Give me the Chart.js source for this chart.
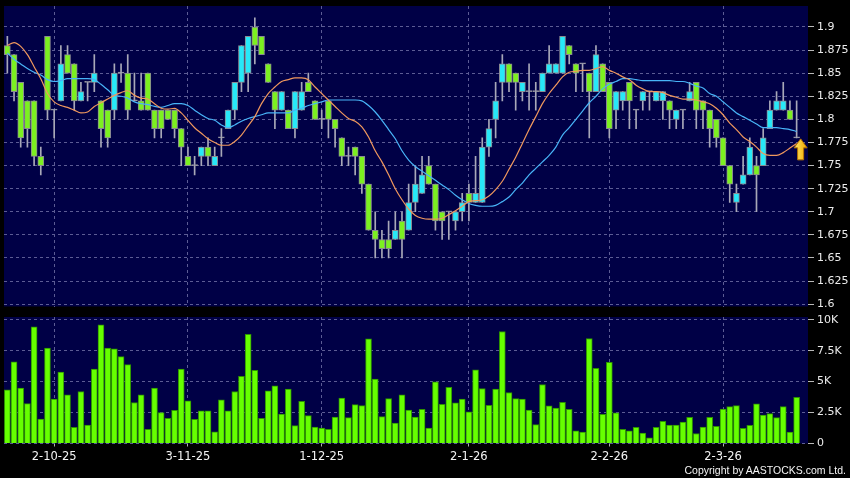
<!DOCTYPE html>
<html lang="en">
<head>
<meta charset="UTF-8">
<title>AASTOCKS daily chart</title>
<script src="https://cdn.jsdelivr.net/npm/chart.js"></script>
<style>
  html, body { margin: 0; padding: 0; background: #000; overflow: hidden; }
  body { width: 850px; height: 478px; position: relative; }
  #priceBox { position: absolute; left: 0; top: -6px; width: 850px; height: 326px; }
  #volBox { position: absolute; left: 0; top: 300px; width: 850px; height: 178px; }
  .copy { position: absolute; right: 4px; top: 464px; color: #f4f4f4;
          font: 10.5px 'Liberation Sans', Arial, sans-serif; }
</style>
</head>
<body>
<div id="priceBox"><canvas id="priceChart"></canvas></div>
<div id="volBox"><canvas id="volChart"></canvas></div>
<div class="copy">Copyright by AASTOCKS.com Ltd.</div>
<script>
// daily bars, 23 Sep 2025 .. 17 Mar 2026
const opens = [1.88,1.87,1.84,1.82,1.82,1.76,1.89,1.81,1.82,1.87,1.86,1.82,1.84,1.84,1.82,1.81,1.81,1.85,1.85,1.82,
  1.82,1.85,1.81,1.81,1.81,1.81,1.79,1.76,1.75,1.76,1.77,1.75,1.78,1.79,1.81,1.84,1.85,1.90,1.89,1.86,
  1.83,1.81,1.81,1.79,1.81,1.84,1.82,1.80,1.82,1.80,1.78,1.76,1.77,1.76,1.73,1.68,1.67,1.67,1.67,1.69,
  1.68,1.71,1.72,1.75,1.73,1.70,1.70,1.69,1.70,1.72,1.71,1.71,1.77,1.80,1.84,1.86,1.85,1.83,1.83,1.83,
  1.83,1.85,1.85,1.85,1.88,1.86,1.86,1.85,1.83,1.86,1.84,1.81,1.82,1.84,1.81,1.82,1.83,1.82,1.82,1.82,
  1.80,1.81,1.82,1.84,1.82,1.81,1.80,1.78,1.75,1.71,1.73,1.74,1.75,1.75,1.79,1.81,1.81,1.81,1.78];
const highs = [1.89,1.87,1.84,1.82,1.82,1.77,1.89,1.81,1.88,1.88,1.86,1.84,1.84,1.87,1.82,1.81,1.86,1.86,1.87,1.85,
  1.85,1.85,1.81,1.81,1.81,1.81,1.79,1.77,1.76,1.77,1.78,1.77,1.79,1.81,1.84,1.88,1.89,1.91,1.89,1.86,
  1.83,1.83,1.81,1.83,1.84,1.85,1.82,1.81,1.82,1.80,1.78,1.77,1.77,1.76,1.73,1.70,1.68,1.69,1.70,1.70,
  1.73,1.75,1.76,1.76,1.73,1.70,1.70,1.70,1.72,1.73,1.76,1.78,1.80,1.84,1.87,1.86,1.85,1.84,1.86,1.84,
  1.85,1.88,1.86,1.89,1.88,1.86,1.86,1.85,1.88,1.86,1.84,1.83,1.83,1.84,1.81,1.83,1.83,1.83,1.83,1.82,
  1.81,1.81,1.84,1.84,1.82,1.81,1.80,1.78,1.75,1.73,1.76,1.78,1.76,1.79,1.82,1.83,1.84,1.82,1.82];
const lows = [1.85,1.82,1.77,1.77,1.75,1.74,1.80,1.78,1.82,1.85,1.81,1.82,1.82,1.83,1.77,1.77,1.80,1.84,1.80,1.82,
  1.81,1.81,1.78,1.78,1.80,1.78,1.75,1.75,1.74,1.75,1.75,1.75,1.76,1.79,1.80,1.83,1.83,1.86,1.87,1.84,
  1.79,1.81,1.79,1.78,1.81,1.83,1.80,1.79,1.78,1.77,1.75,1.75,1.74,1.72,1.68,1.65,1.65,1.65,1.67,1.65,
  1.68,1.70,1.72,1.73,1.68,1.67,1.67,1.68,1.69,1.69,1.71,1.71,1.76,1.78,1.82,1.83,1.81,1.82,1.81,1.81,
  1.83,1.85,1.85,1.85,1.86,1.83,1.83,1.78,1.83,1.83,1.78,1.79,1.81,1.79,1.79,1.81,1.81,1.82,1.80,1.79,
  1.79,1.79,1.82,1.79,1.79,1.77,1.77,1.75,1.71,1.70,1.73,1.74,1.70,1.75,1.79,1.81,1.81,1.80,1.78];
const closes = [1.87,1.83,1.78,1.79,1.76,1.75,1.81,1.81,1.86,1.85,1.82,1.83,1.84,1.85,1.79,1.78,1.85,1.85,1.81,1.82,
  1.81,1.81,1.79,1.79,1.80,1.79,1.77,1.75,1.75,1.77,1.76,1.76,1.78,1.81,1.84,1.88,1.89,1.88,1.87,1.84,
  1.81,1.83,1.79,1.83,1.83,1.83,1.80,1.80,1.80,1.79,1.76,1.76,1.76,1.73,1.68,1.67,1.66,1.66,1.68,1.67,
  1.71,1.73,1.74,1.73,1.69,1.69,1.70,1.70,1.71,1.71,1.72,1.77,1.79,1.82,1.86,1.84,1.84,1.84,1.83,1.83,
  1.85,1.86,1.86,1.89,1.87,1.85,1.86,1.83,1.87,1.83,1.79,1.83,1.83,1.82,1.81,1.83,1.83,1.83,1.83,1.81,
  1.81,1.81,1.83,1.81,1.81,1.79,1.78,1.75,1.73,1.72,1.74,1.77,1.74,1.78,1.81,1.82,1.82,1.80,1.78];
// moving averages (orange = short, blue = long)
const maShort = [1.880,1.883,1.879,1.870,1.857,1.844,1.828,1.819,1.815,1.813,1.810,1.807,1.808,1.814,1.818,1.822,1.826,1.829,1.831,1.826,
  1.823,1.822,1.817,1.812,1.811,1.812,1.807,1.799,1.791,1.785,1.779,1.775,1.772,1.772,1.776,1.783,1.793,1.803,1.817,1.828,
  1.835,1.841,1.843,1.845,1.845,1.843,1.835,1.828,1.821,1.814,1.807,1.801,1.798,1.792,1.781,1.766,1.754,1.740,1.725,1.713,
  1.703,1.696,1.693,1.692,1.692,1.693,1.697,1.701,1.706,1.711,1.712,1.713,1.717,1.724,1.733,1.746,1.759,1.774,1.789,1.803,
  1.817,1.828,1.837,1.846,1.851,1.852,1.853,1.853,1.855,1.857,1.853,1.850,1.846,1.843,1.837,1.833,1.830,1.830,1.829,1.826,
  1.824,1.822,1.822,1.821,1.819,1.817,1.812,1.805,1.796,1.789,1.781,1.776,1.770,1.763,1.761,1.761,1.764,1.769,1.774];
const maLong = [1.872,1.865,1.860,1.855,1.851,1.848,1.843,1.841,1.842,1.844,1.844,1.844,1.844,1.843,1.838,1.832,1.826,1.825,1.823,1.819,
  1.817,1.816,1.814,1.813,1.815,1.817,1.817,1.815,1.810,1.805,1.801,1.799,1.794,1.791,1.794,1.798,1.801,1.803,1.805,1.807,
  1.807,1.807,1.807,1.810,1.812,1.815,1.817,1.819,1.821,1.821,1.821,1.821,1.821,1.820,1.815,1.808,1.799,1.789,1.779,1.766,
  1.756,1.749,1.744,1.739,1.734,1.729,1.724,1.718,1.713,1.709,1.707,1.706,1.706,1.707,1.711,1.716,1.724,1.731,1.740,1.747,
  1.754,1.761,1.770,1.783,1.791,1.800,1.809,1.818,1.825,1.833,1.838,1.841,1.844,1.844,1.843,1.842,1.842,1.842,1.842,1.842,
  1.841,1.841,1.839,1.836,1.834,1.828,1.825,1.819,1.813,1.807,1.803,1.799,1.795,1.791,1.791,1.791,1.790,1.789,1.787];
// volume in thousands of shares
const volumes = [4.34,6.59,4.47,3.22,9.43,1.98,7.70,3.58,5.77,3.93,1.30,4.20,1.49,6.02,9.59,7.70,7.64,7.02,6.37,3.31,
  3.93,1.14,4.47,2.49,2.03,2.68,6.02,3.44,1.95,2.63,2.63,0.95,3.52,2.63,4.20,5.42,8.81,5.91,2.03,4.25,
  4.66,2.38,4.39,1.44,3.41,2.25,1.33,1.25,1.14,2.14,3.66,2.09,3.14,3.06,8.46,5.20,2.17,3.63,1.65,3.93,
  2.71,2.14,2.76,1.25,4.99,3.17,4.53,3.28,3.58,2.55,5.96,4.44,3.09,4.39,9.05,4.12,3.63,3.58,2.71,1.52,
  4.77,3.04,2.87,3.33,2.76,1.03,0.92,8.48,6.07,2.36,6.56,2.47,1.14,1.03,1.30,0.84,0.46,1.30,1.79,1.49,
  1.49,1.73,2.11,0.81,1.33,2.11,1.38,2.79,2.98,3.06,1.22,1.46,3.20,2.30,2.41,2.09,2.98,0.92,3.74];

const dateTickIdx = [7, 27, 47, 69, 90, 107];
const dateTickLabels = ['2-10-25', '3-11-25', '1-12-25', '2-1-26', '2-2-26', '2-3-26'];
const priceTicks = [1.6, 1.625, 1.65, 1.675, 1.7, 1.725, 1.75, 1.775, 1.8, 1.825, 1.85, 1.875, 1.9];
const volTicks = [0, 2.5, 5, 7.5, 10];
const volTickLabels = ['0', '2.5K', '5K', '7.5K', '10K'];

Chart.defaults.font.family = "'DejaVu Sans', sans-serif";
Chart.defaults.font.size = 11;
Chart.defaults.color = '#ececec';

const NAVY = '#000046';
const GRID = '#5c5c94';
const UP = '#27e8f8';
const DOWN = '#7cf020';
const DOJI = '#a8a8b8';

const last = closes.length - 1;
const xMin = -0.5, xMax = 119.7;

const plotBg = {
    id: 'plotBg',
    beforeDraw(chart) {
        const { ctx, chartArea: a } = chart;
        ctx.save();
        ctx.fillStyle = NAVY;
        ctx.fillRect(a.left, a.top, a.right - a.left, a.bottom - a.top);
        ctx.restore();
    }
};

// yellow arrow next to the last close
const lastMark = {
    id: 'lastMark',
    afterDatasetsDraw(chart) {
        const { ctx } = chart;
        const cx = chart.scales.x.getPixelForValue(last) + 4;
        const ty = chart.scales.y.getPixelForValue(closes[last]) + 1;
        ctx.save();
        const g = ctx.createLinearGradient(cx - 6, 0, cx + 6, 0);
        g.addColorStop(0, '#ffe866');
        g.addColorStop(1, '#f0a800');
        ctx.fillStyle = g;
        ctx.strokeStyle = '#b87400';
        ctx.lineWidth = 1;
        ctx.beginPath();
        ctx.moveTo(cx, ty);
        ctx.lineTo(cx + 6.5, ty + 9);
        ctx.lineTo(cx + 3, ty + 9);
        ctx.lineTo(cx + 3, ty + 21);
        ctx.lineTo(cx - 3, ty + 21);
        ctx.lineTo(cx - 3, ty + 9);
        ctx.lineTo(cx - 6.5, ty + 9);
        ctx.closePath();
        ctx.fill();
        ctx.stroke();
        ctx.restore();
    }
};

function dateScale(showLabels) {
    return {
        type: 'linear',
        min: xMin,
        max: xMax,
        offset: false,
        afterBuildTicks: (s) => { s.ticks = dateTickIdx.map(v => ({ value: v })); },
        afterFit: showLabels ? (s) => { s.height = 34.5; } : (s) => { s.height = 0; },
        grid: {
            offset: false,
            color: GRID,
            drawTicks: showLabels,
            tickLength: 3,
            tickColor: '#b0b0b0',
            tickBorderDash: []
        },
        border: { display: false, dash: [3, 3] },
        ticks: {
            display: showLabels,
            autoSkip: false,
            maxRotation: 0,
            padding: 4,
            color: '#f4f4f4',
            font: { size: 11.5 },
            callback: (v) => dateTickLabels[dateTickIdx.indexOf(v)]
        }
    };
}

const bodyColors = opens.map((o, i) => closes[i] > o ? UP : (closes[i] < o ? DOWN : DOJI));

new Chart(document.getElementById('priceChart'), {
    type: 'bar',
    data: {
        datasets: [
            {
                type: 'line', label: 'MA short', order: 0,
                data: maShort.map((v, i) => ({ x: i, y: v })),
                borderColor: '#f0985e', borderWidth: 1.2, pointRadius: 0,
                cubicInterpolationMode: 'monotone'
            },
            {
                type: 'line', label: 'MA long', order: 0,
                data: maLong.map((v, i) => ({ x: i, y: v })),
                borderColor: '#48b4f8', borderWidth: 1.2, pointRadius: 0,
                cubicInterpolationMode: 'monotone'
            },
            {
                label: 'body', order: 1, grouped: false,
                data: opens.map((o, i) => ({ x: i, y: [o, closes[i]] })),
                backgroundColor: bodyColors,
                borderColor: '#8a8a92', borderWidth: 1, borderSkipped: false,
                barThickness: 6, minBarLength: 1
            },
            {
                label: 'wick', order: 2, grouped: false,
                data: lows.map((l, i) => ({ x: i, y: [l, highs[i]] })),
                backgroundColor: '#a8a8b8', barThickness: 1
            }
        ]
    },
    options: {
        responsive: true,
        maintainAspectRatio: false,
        devicePixelRatio: 1,
        animation: false,
        layout: { padding: { left: 4, top: 12, right: 0, bottom: 13.5 } },
        plugins: { legend: { display: false }, tooltip: { enabled: false } },
        scales: {
            x: dateScale(false),
            y: {
                position: 'right',
                min: 1.5975,
                max: 1.9227,
                afterBuildTicks: (s) => { s.ticks = priceTicks.map(v => ({ value: v })); },
                afterFit: (s) => { s.width = 42; },
                grid: { color: GRID, tickLength: 6, tickColor: '#b8b8b8', tickBorderDash: [] },
                border: { display: false, dash: [3, 3] },
                ticks: { padding: 3, callback: (v) => String(v) }
            }
        }
    },
    plugins: [plotBg, lastMark]
});

new Chart(document.getElementById('volChart'), {
    type: 'bar',
    data: {
        datasets: [{
            label: 'Volume',
            data: volumes.map((v, i) => ({ x: i, y: v })),
            backgroundColor: '#66ff00',
            borderColor: '#2e9400',
            borderWidth: 1,
            barThickness: 6
        }]
    },
    options: {
        responsive: true,
        maintainAspectRatio: false,
        devicePixelRatio: 1,
        animation: false,
        layout: { padding: { left: 4, top: 17, right: 0, bottom: 0 } },
        plugins: { legend: { display: false }, tooltip: { enabled: false } },
        scales: {
            x: dateScale(true),
            y: {
                position: 'right',
                min: 0,
                max: 10.22,
                afterBuildTicks: (s) => { s.ticks = volTicks.map(v => ({ value: v })); },
                afterFit: (s) => { s.width = 42; },
                grid: { color: GRID, tickLength: 6, tickColor: '#b8b8b8', tickBorderDash: [] },
                border: { display: false, dash: [3, 3] },
                ticks: { padding: 3, callback: (v) => volTickLabels[volTicks.indexOf(v)] }
            }
        }
    },
    plugins: [plotBg]
});
</script>
</body>
</html>
